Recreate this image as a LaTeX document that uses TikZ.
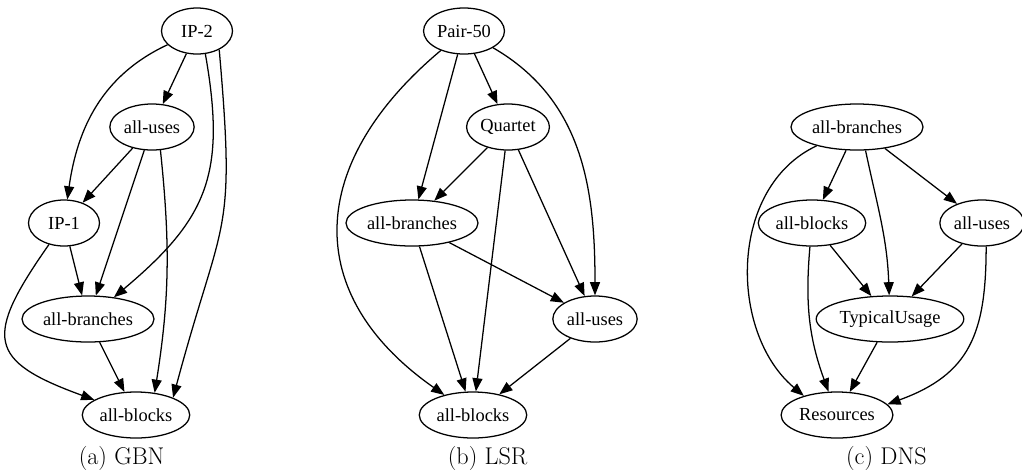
\documentclass[tikz,border=0pt]{standalone}
\usepackage{fontspec}
\newfontfamily\gvfont{Liberation Serif}
\usetikzlibrary{arrows.meta,positioning,shapes.geometric}
\tikzset{
  ovl/.style={draw, ellipse, inner sep=1.2pt, minimum height=1.15cm, minimum width=1.775cm, font=\gvfont\fontsize{13.1}{15}\selectfont, line width=0.9pt},
  subcap/.style={font=\fontsize{17.2}{20}\selectfont},
  arr/.style={-{Triangle[length=0.33cm, width=0.25cm]}, line width=0.9pt},
}
\begin{document}
\begin{tikzpicture}[node distance=2.4cm and 1cm, on grid]
\useasboundingbox (0,0) rectangle (25.55,-11.85);

% (a) GBN
\node[ovl] (ip2) at (4.925,-0.775) {IP-2};
\node[ovl, below left=2.4cm and 1.125cm of ip2] (usesA) {all-uses};
\node[ovl, below left=2.4cm and 2.2cm of usesA] (ip1) {IP-1};
\node[ovl, below right=2.4cm and 0.6cm of ip1] (branchesA) {all-branches};
\node[ovl, below right=2.4cm and 1.2cm of branchesA] (blocksA) {all-blocks};

\draw[arr] (ip2) -- (usesA);
\draw[arr] (ip2) to[out=205, in=82] (ip1);
\draw[arr] (ip2.-70) to[out=-80, in=40, looseness=1.2] (branchesA);
\draw[arr] (ip2.-40) to[out=-85, in=75, looseness=1.4] (blocksA.25);
\draw[arr] (usesA) -- (ip1);
\draw[arr] (usesA) -- (branchesA);
\draw[arr] (usesA.-70) to[out=-84, in=81] (blocksA.50);
\draw[arr] (ip1) -- (branchesA);
\draw[arr] (ip1) to[out=235, in=160, looseness=1.8] (blocksA);
\draw[arr] (branchesA) -- (blocksA);

% (b) LSR
\node[ovl] (pair) at (11.6,-0.775) {Pair-50};
\node[ovl, below right=2.4cm and 1.1cm of pair] (quartet) {Quartet};
\node[ovl, below left=2.4cm and 2.4cm of quartet] (branchesB) {all-branches};
\node[ovl, below right=2.4cm and 4.575cm of branchesB] (usesB) {all-uses};
\node[ovl, below left=2.4cm and 3.05cm of usesB] (blocksB) {all-blocks};

\draw[arr] (pair) to[out=220, in=145, looseness=1.3] (blocksB);
\draw[arr] (pair) -- (branchesB);
\draw[arr] (pair) -- (quartet);
\draw[arr] (pair) to[out=-30, in=90] (usesB);
\draw[arr] (quartet) -- (branchesB);
\draw[arr] (quartet) -- (blocksB);
\draw[arr] (quartet) -- (usesB);
\draw[arr] (branchesB) -- (usesB);
\draw[arr] (branchesB) -- (blocksB);
\draw[arr] (usesB) -- (blocksB);

% (c) DNS
\node[ovl] (branchesC) at (21.425,-3.175) {all-branches};
\node[ovl, below left=2.4cm and 1.125cm of branchesC] (blocksC) {all-blocks};
\node[ovl, below right=2.4cm and 3.125cm of branchesC] (usesC) {all-uses};
\node[ovl, below right=4.8cm and 0.825cm of branchesC] (typical) {TypicalUsage};
\node[ovl, below left=2.4cm and 1.325cm of typical] (resources) {Resources};

\draw[arr] (branchesC) to[out=205, in=140] (resources.150);
\draw[arr] (branchesC) -- (blocksC);
\draw[arr] (branchesC.-70) to[out=-78, in=92] (typical);
\draw[arr] (branchesC) -- (usesC);
\draw[arr] (blocksC) -- (typical);
\draw[arr] (blocksC) to[out=-95, in=110] (resources.110);
\draw[arr] (usesC.-80) to[out=-90, in=20, looseness=1.2] (resources.12);
\draw[arr] (usesC) -- (typical);
\draw[arr] (typical) -- (resources);

% captions
\node[subcap] (capA) at (3.04,-11.45) {(a) GBN};
\node[subcap] (capB) at (12.19,-11.45) {(b) LSR};
\node[subcap] (capC) at (22.16,-11.45) {(c) DNS};

\end{tikzpicture}
\end{document}
